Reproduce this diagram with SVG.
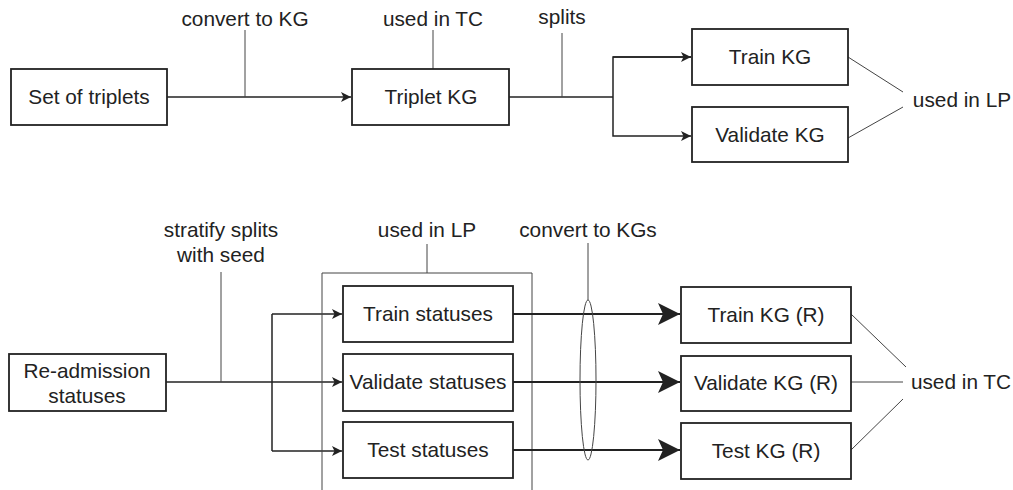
<svg xmlns="http://www.w3.org/2000/svg" width="1013" height="490" viewBox="0 0 1013 490">
<style>
.box{fill:#fff;stroke:#222;stroke-width:1.8}
.t{font-family:"Liberation Sans",Arial,sans-serif;font-size:20.8px;fill:#222;text-anchor:middle}
.ln{fill:none;stroke:#222;stroke-width:1.5}
.thin{fill:none;stroke:#444;stroke-width:1}
.thick{fill:none;stroke:#222;stroke-width:2.2}
</style>
<defs>
<marker id="ar" viewBox="0 0 10 10" refX="10" refY="5" markerWidth="10" markerHeight="10" markerUnits="userSpaceOnUse" orient="auto">
<path d="M0,0 L10,5 L0,10 L2.5,5 Z" fill="#222"/>
</marker>
<marker id="big" viewBox="0 0 22 22" refX="22" refY="11" markerWidth="22" markerHeight="22" markerUnits="userSpaceOnUse" orient="auto">
<path d="M0,0 L22,11 L0,22 L5,11 Z" fill="#222"/>
</marker>
</defs>
<g id="connectors">
<path class="ln" d="M167,97 H351" marker-end="url(#ar)"/>
<path class="thin" d="M245,30 V97"/>
<path class="thin" d="M433,30 V69"/>
<path class="ln" d="M509,97 H613"/>
<path class="thin" d="M562,33 V97"/>
<path class="ln" d="M691,57 H613 V136 H691" marker-end="url(#ar)"/>
<path class="ln" d="M613,57 H691" marker-end="url(#ar)"/>
<path class="thin" d="M848,57 L903,92 M848,138 L903,107"/>
<path class="ln" d="M166,382 H342" marker-end="url(#ar)"/>
<path class="thin" d="M221,272 V382"/>
<path class="ln" d="M272,314 V451"/>
<path class="ln" d="M272,314 H342" marker-end="url(#ar)"/>
<path class="ln" d="M272,451 H342" marker-end="url(#ar)"/>
<path class="thin" d="M322,490 V273 H532 V490"/>
<path class="thin" d="M427,244 V273"/>
<path class="thick" d="M513,314 H680" marker-end="url(#big)"/>
<path class="thick" d="M513,382 H680" marker-end="url(#big)"/>
<path class="thick" d="M513,450 H680" marker-end="url(#big)"/>
<ellipse class="thin" cx="588" cy="380" rx="8" ry="80"/>
<path class="thin" d="M588,243 V300"/>
<path class="thin" d="M851,314 L906,367 M851,382 H903 M851,450 L903,399"/>
</g>
<g id="labels">
<text class="t" x="245" y="26">convert to KG</text>
<text class="t" x="433" y="26">used in TC</text>
<text class="t" x="562" y="24">splits</text>
<text class="t" x="962" y="107">used in LP</text>
<text class="t" x="221" y="237">stratify splits</text>
<text class="t" x="221" y="262">with seed</text>
<text class="t" x="427" y="237">used in LP</text>
<text class="t" x="588" y="237">convert to KGs</text>
<text class="t" x="961" y="389">used in TC</text>
</g>
<g id="n_set"><rect class="box" x="11" y="69" width="156" height="56"/><text class="t" x="89" y="104">Set of triplets</text></g>
<g id="n_triplet"><rect class="box" x="352" y="69" width="157" height="56"/><text class="t" x="431" y="104">Triplet KG</text></g>
<g id="n_train"><rect class="box" x="692" y="29" width="156" height="56"/><text class="t" x="770" y="64">Train KG</text></g>
<g id="n_validate"><rect class="box" x="692" y="107" width="156" height="55"/><text class="t" x="770" y="142">Validate KG</text></g>
<g id="n_readm"><rect class="box" x="9" y="354" width="157" height="57"/><text class="t" x="87" y="378">Re-admission</text><text class="t" x="87" y="403">statuses</text></g>
<g id="n_trs"><rect class="box" x="343" y="286" width="170" height="56"/><text class="t" x="428" y="321">Train statuses</text></g>
<g id="n_vs"><rect class="box" x="343" y="354" width="170" height="57"/><text class="t" x="428" y="389">Validate statuses</text></g>
<g id="n_ts"><rect class="box" x="343" y="422" width="170" height="56"/><text class="t" x="428" y="457">Test statuses</text></g>
<g id="n_trkg"><rect class="box" x="681" y="287" width="170" height="56"/><text class="t" x="766" y="322">Train KG (R)</text></g>
<g id="n_vkg"><rect class="box" x="681" y="356" width="170" height="55"/><text class="t" x="766" y="390">Validate KG (R)</text></g>
<g id="n_tkg"><rect class="box" x="681" y="423" width="170" height="56"/><text class="t" x="766" y="458">Test KG (R)</text></g>
</svg>
